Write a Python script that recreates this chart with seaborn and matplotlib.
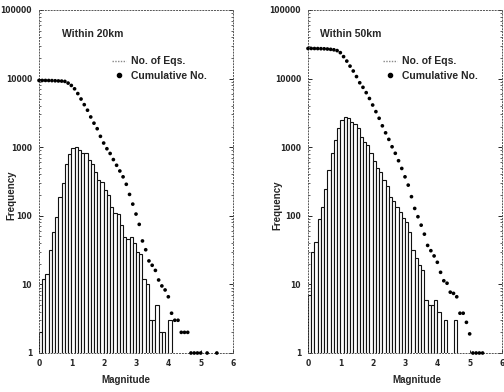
import numpy as np
import pandas as pd
import matplotlib
matplotlib.use('Agg')
import matplotlib.pyplot as plt
import seaborn as sns
from matplotlib.lines import Line2D
from matplotlib.ticker import FixedLocator, FuncFormatter, LogLocator, NullFormatter

# ---------------- data ----------------
# Within 20 km : number of earthquakes per 0.1 magnitude bin (bin left edge)
mag20 = [0.0, 0.1, 0.2, 0.3, 0.4, 0.5, 0.6, 0.7, 0.8, 0.9,
         1.0, 1.1, 1.2, 1.3, 1.4, 1.5, 1.6, 1.7, 1.8, 1.9,
         2.0, 2.1, 2.2, 2.3, 2.4, 2.5, 2.6, 2.7, 2.8, 2.9,
         3.0, 3.1, 3.2, 3.3, 3.4, 3.5, 3.6, 3.7, 3.8, 4.0]
cnt20 = [2, 12, 14, 32, 58, 96, 190, 300, 570, 800,
         960, 1000, 900, 820, 810, 645, 560, 435, 336, 310,
         235, 200, 134, 110, 106, 73, 49, 46, 49, 40,
         30, 28, 12, 10, 3, 3, 5, 2, 2, 3]
# Within 20 km : cumulative number
cmag20 = [0.0, 0.1, 0.2, 0.3, 0.4, 0.5, 0.6, 0.7, 0.8, 0.9,
          1.0, 1.1, 1.2, 1.3, 1.4, 1.5, 1.6, 1.7, 1.8, 1.9,
          2.0, 2.1, 2.2, 2.3, 2.4, 2.5, 2.6, 2.7, 2.8, 2.9,
          3.0, 3.1, 3.2, 3.3, 3.4, 3.5, 3.6, 3.7, 3.8, 3.9,
          4.0, 4.1, 4.2, 4.3, 4.4, 4.5, 4.6, 4.7, 4.8, 4.9,
          5.0, 5.2, 5.5]
cum20 = [9400, 9400, 9400, 9380, 9350, 9300, 9250, 9200, 9100, 8600,
         7950, 7100, 6050, 5040, 4170, 3460, 2760, 2240, 1860, 1440,
         1150, 950, 810, 660, 545, 450, 370, 288, 205, 148,
         106, 75, 43, 32, 22, 19, 16, 11.6, 9.5, 8.3,
         6.6, 3.8, 3, 3, 2, 2, 2, 1, 1, 1,
         1, 1, 1]

# Within 50 km
mag50 = [0.0, 0.1, 0.2, 0.3, 0.4, 0.5, 0.6, 0.7, 0.8, 0.9,
         1.0, 1.1, 1.2, 1.3, 1.4, 1.5, 1.6, 1.7, 1.8, 1.9,
         2.0, 2.1, 2.2, 2.3, 2.4, 2.5, 2.6, 2.7, 2.8, 2.9,
         3.0, 3.1, 3.2, 3.3, 3.4, 3.5, 3.6, 3.7, 3.8, 3.9,
         4.0, 4.2, 4.5]
cnt50 = [7, 30, 42, 90, 135, 250, 465, 815, 1260, 1880,
         2500, 2740, 2650, 2350, 2180, 1880, 1420, 1200, 1070, 830,
         620, 490, 440, 330, 270, 190, 165, 135, 115, 92,
         82, 59, 32, 24, 19, 16, 6, 5, 5, 6,
         4, 3, 3]
cmag50 = [0.0, 0.1, 0.2, 0.3, 0.4, 0.5, 0.6, 0.7, 0.8, 0.9,
          1.0, 1.1, 1.2, 1.3, 1.4, 1.5, 1.6, 1.7, 1.8, 1.9,
          2.0, 2.1, 2.2, 2.3, 2.4, 2.5, 2.6, 2.7, 2.8, 2.9,
          3.0, 3.1, 3.2, 3.3, 3.4, 3.5, 3.6, 3.7, 3.8, 3.9,
          4.0, 4.1, 4.2, 4.3, 4.4, 4.5, 4.6, 4.7, 4.8, 4.9,
          5.0, 5.1, 5.2, 5.3, 5.4]
cum50 = [27500, 27500, 27450, 27400, 27300, 27200, 27000, 26700, 26300, 25600,
         23900, 20900, 18000, 15200, 12900, 10700, 8700, 7460, 6240, 5130,
         4120, 3300, 2640, 2050, 1620, 1300, 1015, 815, 635, 490,
         370, 280, 190, 128, 97, 73, 54, 37, 31, 26,
         21, 15, 11.3, 10.4, 7.7, 7.4, 6.6, 3.8, 3.8, 2.8,
         1.9, 1, 1, 1, 1]

yticks = [1, 10, 100, 1000, 10000, 100000]
xticks = [0, 1, 2, 3, 4, 5, 6]

# ---------------- style ----------------
sns.set_style('ticks')
plt.rcParams['font.family'] = ['DejaVu Sans']
TXT = ['Liberation Sans', 'DejaVu Sans']

fig = plt.figure(figsize=(5.04, 3.92), dpi=100)
ax1 = fig.add_axes([39 / 504, 39 / 392, 194 / 504, 343 / 392])
ax2 = fig.add_axes([308 / 504, 39 / 392, 194 / 504, 343 / 392])

edges = [float(v) for v in np.round(np.arange(0, 6.05, 0.1), 1)]


def panel(ax, mags, counts, cmags, cums, title, title_x, lab_x, ylab_xy, leg_x):
    hist_df = pd.DataFrame({'mag': mags, 'n': counts})
    cum_df = pd.DataFrame({'mag': cmags, 'cum': cums})
    sns.histplot(data=hist_df, x='mag', weights='n', bins=edges, ax=ax,
                 stat='count', color='white', edgecolor='#111111',
                 linewidth=0.8, alpha=1, zorder=2)
    sns.scatterplot(data=cum_df, x='mag', y='cum', ax=ax, color='black', s=7,
                    edgecolor='none', linewidth=0, clip_on=False, zorder=4)
    ax.set_yscale('log')
    ax.set_xlim(0, 6)
    ax.set_ylim(1, 100000)
    ax.yaxis.set_major_locator(FixedLocator(yticks))
    ax.yaxis.set_major_formatter(FuncFormatter(lambda v, p: f'{int(round(v))}'))
    ax.yaxis.set_minor_locator(LogLocator(base=10, subs=range(2, 10)))
    ax.yaxis.set_minor_formatter(NullFormatter())
    ax.xaxis.set_major_locator(FixedLocator(xticks))
    ax.tick_params(axis='y', which='major', direction='in', length=3,
                   width=0.7, right=True, pad=5, labelsize=5.5)
    ax.tick_params(axis='y', which='minor', direction='in', length=1.5,
                   width=0.5, right=True)
    ax.tick_params(axis='x', which='major', direction='in', length=2,
                   width=0.7, pad=4, labelsize=5.5)
    for lab in ax.get_xticklabels() + ax.get_yticklabels():
        lab.set_fontweight('bold')
    for s in ax.spines.values():
        s.set_visible(True)
        s.set_linestyle((0, (1, 2)))
        s.set_linewidth(0.7)
        s.set_color('#555555')
    ax.set_xlabel('Magnitude', fontsize=7, fontweight='bold', family=TXT)
    ax.set_ylabel('Frequency', fontsize=7, fontweight='bold', family=TXT)
    ax.xaxis.set_label_coords(lab_x, -0.064)
    ax.yaxis.set_label_coords(*ylab_xy)
    ax.text(title_x, 0.93, title, transform=ax.transAxes,
            fontsize=7.5, fontweight='bold', family=TXT, va='center', ha='left')
    handles = [Line2D([], [], color='#888888', linestyle=(0, (1, 1)), lw=1),
               Line2D([], [], color='black', marker='o', linestyle='none',
                      markersize=3)]
    ax.legend(handles, ['No. of Eqs.', 'Cumulative No.'], loc='upper left',
              bbox_to_anchor=(leg_x, 0.88), frameon=False, borderpad=0,
              handlelength=1.3, handletextpad=0.5, labelspacing=0.45,
              prop={'family': TXT, 'weight': 'bold', 'size': 7.5})


panel(ax1, mag20, cnt20, cmag20, cum20, 'Within 20km', 0.12, 0.45, (-0.115, 0.46), 0.35)
panel(ax2, mag50, cnt50, cmag50, cum50, 'Within 50km', 0.062, 0.56, (-0.13, 0.43), 0.36)

fig.savefig('out.png', dpi=100)
